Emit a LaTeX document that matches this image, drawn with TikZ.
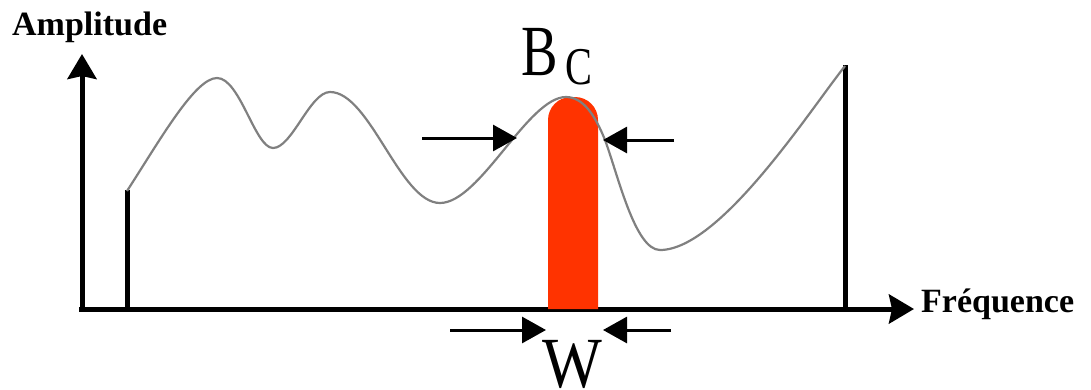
\documentclass[tikz,border=0pt]{standalone}
\usepackage{fontspec}
\setmainfont{Liberation Serif}
\usetikzlibrary{arrows.meta}
\definecolor{band}{RGB}{255,51,0}
\definecolor{trace}{RGB}{128,128,128}

\begin{document}
\begin{tikzpicture}[x=1pt,y=-1pt,
  ax/.style={-{Stealth[length=25pt,width=29pt,inset=3pt]},line width=5pt},
  bar/.style={line width=5pt},
  ptr/.style={-{Triangle[length=24pt,width=26pt]},line width=3pt},
  sig/.style={trace,line width=2.2pt,line join=round},
  lbl/.style={font=\fontsize{34}{34}\selectfont\bfseries,inner sep=0pt,anchor=base west},
  big/.style={font=\fontsize{24}{24}\selectfont,inner sep=0pt,anchor=base west,yscale=3}]
\useasboundingbox (0,0) rectangle (1091,389);
% axes
\coordinate (o) at (79,309);
\coordinate (oy) at (82,311);
\coordinate (ytip) at (82,54);
\coordinate (xtip) at (914,309);
\draw[ax] (oy) -- (ytip);
\draw[ax] (o) -- (xtip);
\node[lbl] (amp) at (12,35) {Amplitude};
\node[lbl] (freq) at (921,312) {Fréquence};
% band
\fill[band,rounded corners=23pt] (548,309) -- (548,97) -- (598,97) -- (598,309);
% spectrum
\coordinate (fl) at (127,190);
\coordinate (fr) at (845,65);
\draw[bar] (fl) -- (fl |- o);
\draw[bar] (fr) -- (fr |- o);
\draw[sig] (127,191) .. controls (160,140) and (195,78) .. (217,78)
  .. controls (240,78) and (255,148) .. (273,148)
  .. controls (292,148) and (310,92) .. (330,92)
  .. controls (370,92) and (400,203) .. (440,203)
  .. controls (480,203) and (528,97) .. (566,97)
  .. controls (583,97) and (595,115) .. (605,140)
  .. controls (618,175) and (635,250) .. (660,250)
  .. controls (720,250) and (810,110) .. (845,66);
% labels
\node[big,xscale=2.28] (bc) at (521,75)
  {B\kern3.3pt\raisebox{-3.3pt}{\fontsize{17.7}{17.7}\selectfont C}};
\node[big,xscale=2.64] (w) at (542,387) {W};
% pointers
\coordinate (a1) at (422,138);
\coordinate (b1) at (517,138);
\coordinate (a2) at (674,140);
\coordinate (b2) at (603,140);
\coordinate (a3) at (450,330);
\coordinate (b3) at (546,330);
\coordinate (a4) at (671,330);
\coordinate (b4) at (603,330);
\draw[ptr] (a1) -- (b1);
\draw[ptr] (a2) -- (b2);
\draw[ptr] (a3) -- (b3);
\draw[ptr] (a4) -- (b4);
\end{tikzpicture}
\end{document}
